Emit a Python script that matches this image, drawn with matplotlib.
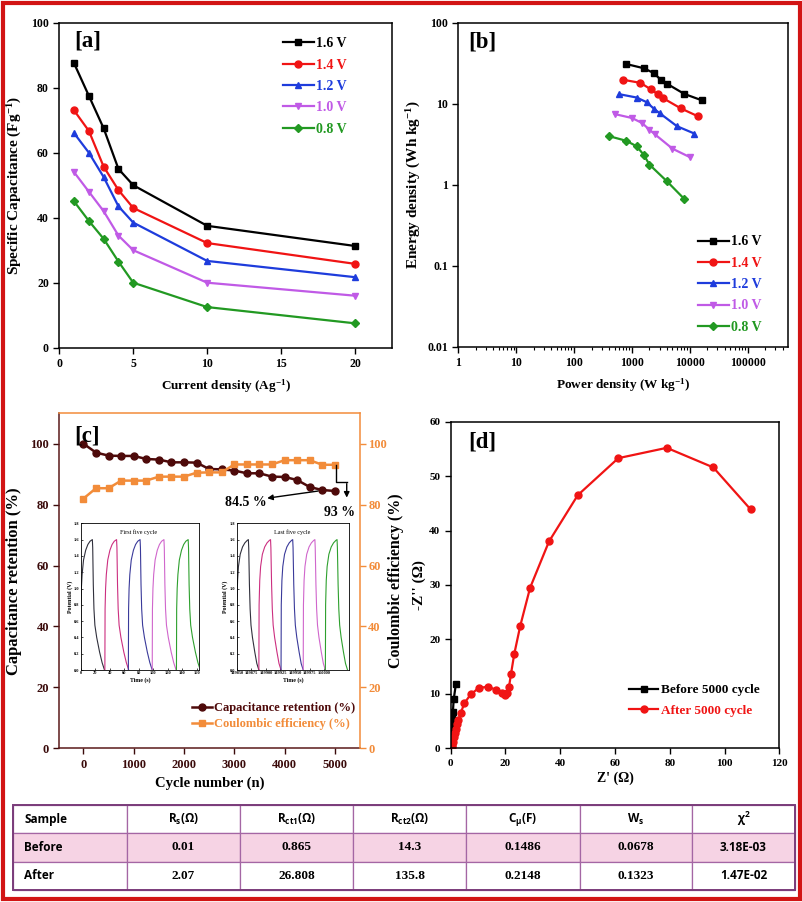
import matplotlib
matplotlib.use('Agg')
import matplotlib.pyplot as plt
from matplotlib.patches import Rectangle
from matplotlib.ticker import LogLocator, NullLocator, NullFormatter, FuncFormatter

plt.rcParams['font.family'] = ['Liberation Serif', 'DejaVu Serif']
plt.rcParams['font.weight'] = 'bold'
plt.rcParams['axes.labelweight'] = 'bold'
plt.rcParams['mathtext.default'] = 'regular'
plt.rcParams['axes.linewidth'] = 1.1

# ---------------- data ----------------
volt_labels = ['1.6 V', '1.4 V', '1.2 V', '1.0 V', '0.8 V']
volt_colors = ['#000000', '#F01414', '#1E3CDC', '#C05AE6', '#229922']
volt_markers = ['s', 'o', '^', 'v', 'D']

# [a] specific capacitance vs current density
current = [1, 2, 3, 4, 5, 10, 20]
cap_16 = [87.5, 77.5, 67.5, 55.0, 50.0, 37.5, 31.3]
cap_14 = [73.0, 66.7, 55.7, 48.5, 43.0, 32.2, 25.8]
cap_12 = [66.0, 60.0, 52.5, 43.5, 38.5, 26.7, 21.7]
cap_10 = [54.0, 48.0, 42.0, 34.5, 30.0, 20.0, 16.0]
cap_08 = [45.0, 39.0, 33.5, 26.5, 20.0, 12.5, 7.5]

# [b] energy density vs power density
pow_16 = [800, 1600, 2400, 3200, 4000, 8000, 16000]
pow_14 = [700, 1400, 2100, 2800, 3500, 7000, 14000]
pow_12 = [600, 1200, 1800, 2400, 3000, 6000, 12000]
pow_10 = [500, 1000, 1500, 2000, 2500, 5000, 10000]
pow_08 = [400, 800, 1200, 1600, 2000, 4000, 8000]
en_16 = [31.1, 27.6, 24.0, 19.6, 17.8, 13.3, 11.1]
en_14 = [19.9, 18.2, 15.2, 13.2, 11.7, 8.8, 7.0]
en_12 = [13.2, 12.0, 10.5, 8.7, 7.7, 5.3, 4.3]
en_10 = [7.5, 6.7, 5.8, 4.8, 4.2, 2.8, 2.2]
en_08 = [4.0, 3.5, 3.0, 2.35, 1.78, 1.11, 0.67]

# [c] cycling stability
cycle_n = [0, 250, 500, 750, 1000, 1250, 1500, 1750, 2000, 2250, 2500,
           2750, 3000, 3250, 3500, 3750, 4000, 4250, 4500, 4750, 5000]
retention = [100.0, 97.1, 96.1, 96.0, 96.0, 95.0, 94.8, 93.9, 93.9, 93.8, 91.7,
             91.6, 91.2, 90.3, 90.3, 89.2, 89.1, 88.1, 85.8, 84.8, 84.5]
coulombic = [82.0, 85.4, 85.4, 87.9, 87.9, 87.9, 89.2, 89.2, 89.2, 90.5, 90.6,
             90.6, 93.2, 93.2, 93.2, 93.2, 94.6, 94.6, 94.6, 93.1, 93.1]

# GCD insets: one charge/discharge profile per inset, repeated at read start times
gcd_dt_first = [0, 0.3, 1, 2, 4, 7, 10, 13, 16.2, 16.7, 17.5, 18.4, 19.7, 22.2, 26.2, 29.7, 33]
gcd_v_first = [0.0, 0.75, 1.0, 1.17, 1.35, 1.47, 1.54, 1.58, 1.60, 1.50, 1.05, 0.75, 0.55,
               0.40, 0.22, 0.09, 0.0]
gcd_start_first = [-0.5, 33.0, 65.5, 98.5, 132.0]
gcd_dt_last = [0, 0.4, 1.5, 3, 6, 10, 14, 18, 20, 20.6, 21.8, 23, 24.5, 27, 31, 34.5, 38]
gcd_v_last = [0.0, 0.8, 1.1, 1.27, 1.42, 1.51, 1.56, 1.59, 1.60, 1.50, 1.05, 0.75, 0.55,
              0.40, 0.22, 0.08, 0.0]
gcd_start_last = [149850, 149888, 149926, 149964, 150002]
gcd_colors = ['#30303C', '#CC2F80', '#3A3A9A', '#D066CC', '#2EA02E']

# [d] Nyquist plot
z_re_before = [0.0, 0.05, 0.1, 0.2, 0.3, 0.45, 0.6, 0.8, 1.1, 1.9]
z_im_before = [0.0, 0.3, 1.0, 2.0, 3.3, 4.5, 5.5, 6.7, 9.0, 11.8]
z_re_after = [0.3, 0.6, 0.9, 1.2, 1.5, 1.8, 2.2, 2.8, 3.6, 5.0, 7.3, 10.3, 13.5, 16.4,
              18.8, 19.8, 20.7, 21.3, 22.0, 23.2, 25.4, 29.0, 35.9, 46.4, 61.2, 78.9,
              95.9, 109.5]
z_im_after = [0.2, 0.6, 1.2, 2.0, 2.8, 3.6, 4.5, 5.2, 6.4, 8.3, 9.9, 11.1, 11.3, 10.8,
              10.1, 9.8, 10.2, 11.3, 13.6, 17.3, 22.5, 29.5, 38.0, 46.5, 53.3, 55.2,
              51.6, 43.9]

# fitted circuit table
table_header = ['Sample', 'R$_s$(Ω)', 'R$_{ct1}$(Ω)', 'R$_{ct2}$(Ω)', 'C$_μ$(F)', 'W$_s$', 'χ$^2$']
row_before = ['Before', '0.01', '0.865', '14.3', '0.1486', '0.0678', '3.18E-03']
row_after = ['After', '2.07', '26.808', '135.8', '0.2148', '0.1323', '1.47E-02']

# ---------------- figure ----------------
W, H = 803, 902
fig = plt.figure(figsize=(W / 100, H / 100), dpi=100)


def px_axes(left, top, right, bottom):
    return fig.add_axes([left / W, 1 - bottom / H, (right - left) / W, (bottom - top) / H])


def style_legend(leg, colors):
    for txt, c in zip(leg.get_texts(), colors):
        txt.set_color(c)


# ---- [a]
ax_a = px_axes(59.3, 22.7, 392, 347.7)
for ys, lab, c, m in zip([cap_16, cap_14, cap_12, cap_10, cap_08], volt_labels,
                         volt_colors, volt_markers):
    ax_a.plot(current, ys, color=c, marker=m, ms=5 if m != 'D' else 4, lw=1.6, label=lab)
ax_a.set_xlim(0, 22.5)
ax_a.set_ylim(0, 100)
ax_a.set_xticks([0, 5, 10, 15, 20])
ax_a.set_yticks(range(0, 101, 20))
ax_a.tick_params(direction='out', length=4, width=1, labelsize=8.5)
ax_a.set_xlabel('Current density (Ag$^{-1}$)', fontsize=9.5, labelpad=5)
ax_a.set_ylabel('Specific Capacitance (Fg$^{-1}$)', fontsize=11, labelpad=5)
ax_a.text(0.044, 0.975, '[a]', transform=ax_a.transAxes, fontsize=16.5, va='top')
leg = ax_a.legend(loc='upper right', bbox_to_anchor=(0.865, 0.955), frameon=False,
                  fontsize=10, handlelength=2.2, handletextpad=0.2, labelspacing=0.6,
                  borderaxespad=0, borderpad=0)
style_legend(leg, volt_colors)

# ---- [b]
ax_b = px_axes(458.3, 23, 787.7, 346.7)
for xs, ys, lab, c, m in zip([pow_16, pow_14, pow_12, pow_10, pow_08],
                             [en_16, en_14, en_12, en_10, en_08], volt_labels,
                             volt_colors, volt_markers):
    ax_b.plot(xs, ys, color=c, marker=m, ms=5 if m != 'D' else 4, lw=1.6, label=lab)
ax_b.set_xscale('log')
ax_b.set_yscale('log')
ax_b.set_xlim(1, 4.9e5)
ax_b.set_ylim(0.01, 100)
ax_b.set_xticks([1, 10, 100, 1000, 10000, 100000])
ax_b.set_yticks([0.01, 0.1, 1, 10, 100])
ax_b.xaxis.set_minor_locator(LogLocator(base=10, subs=range(2, 10), numticks=20))
ax_b.xaxis.set_minor_formatter(NullFormatter())
ax_b.yaxis.set_minor_locator(NullLocator())
ax_b.xaxis.set_major_formatter(FuncFormatter(lambda v, p: '%g' % v))
ax_b.yaxis.set_major_formatter(FuncFormatter(lambda v, p: '%g' % v))
ax_b.tick_params(which='both', direction='out', labelsize=8.5)
ax_b.tick_params(which='major', length=4, width=1)
ax_b.tick_params(which='minor', length=2, width=0.8)
ax_b.set_xlabel('Power density (W kg$^{-1}$)', fontsize=9.5, labelpad=5)
ax_b.set_ylabel('Energy density (Wh kg$^{-1}$)', fontsize=11, labelpad=3)
ax_b.text(0.03, 0.975, '[b]', transform=ax_b.transAxes, fontsize=16.5, va='top')
leg = ax_b.legend(loc='lower right', bbox_to_anchor=(0.922, 0.04), frameon=False,
                  fontsize=10, handlelength=2.2, handletextpad=0.2, labelspacing=0.6,
                  borderaxespad=0, borderpad=0)
style_legend(leg, volt_colors)

# ---- [c]
maroon = '#4E0A0A'
orange = '#F28C3A'
ax_c = px_axes(59.3, 413.3, 360, 748.3)
ax_c2 = ax_c.twinx()
ax_c.plot(cycle_n, retention, color=maroon, marker='o', ms=5, lw=1.8,
          label='Capacitance retention (%)')
ax_c2.plot(cycle_n, coulombic, color=orange, marker='s', ms=4.5, lw=1.8,
           label='Coulombic efficiency (%)')
ax_c.set_xlim(-480, 5500)
ax_c.set_ylim(0, 110)
ax_c2.set_ylim(0, 110)
ax_c.set_xticks(range(0, 5001, 1000))
ax_c.set_yticks(range(0, 101, 20))
ax_c2.set_yticks(range(0, 101, 20))
ax_c.tick_params(direction='out', length=4, width=1, labelsize=9, colors='#3A0A0A')
ax_c2.tick_params(direction='out', length=4, width=1, labelsize=9, colors=orange, pad=2)
for s in ['left', 'bottom']:
    ax_c.spines[s].set_color('#5A1A1A')
ax_c.spines['top'].set_visible(False)
ax_c.spines['right'].set_visible(False)
ax_c2.spines['left'].set_visible(False)
ax_c2.spines['bottom'].set_visible(False)
ax_c2.spines['right'].set_color(orange)
ax_c2.spines['top'].set_color(orange)
ax_c.set_xlabel('Cycle number (n)', fontsize=10.5, labelpad=4)
ax_c.set_ylabel('Capacitance retention (%)', fontsize=12, labelpad=6)
ax_c2.set_ylabel('Coulombic efficiency (%)', fontsize=11.5, labelpad=1)
ax_c.text(0.049, 0.965, '[c]', transform=ax_c.transAxes, fontsize=16.5, va='top')
# annotations
ax_c.annotate('', xy=(3600, 82.0), xytext=(4720, 84.6),
              arrowprops=dict(arrowstyle='-|>', color='black', lw=1.0, mutation_scale=8))
ax_c.text(3230, 80.6, '84.5 %', fontsize=10, ha='center', va='center')
ax_c2.plot([5018, 5018, 5236], [93.0, 87.6, 87.6], color='black', lw=1.0)
ax_c2.annotate('', xy=(5236, 81.4), xytext=(5236, 87.8),
               arrowprops=dict(arrowstyle='-|>', color='black', lw=1.0, mutation_scale=8))
ax_c2.text(5095, 77.3, '93 %', fontsize=10, ha='center', va='center')
h1, l1 = ax_c.get_legend_handles_labels()
h2, l2 = ax_c2.get_legend_handles_labels()
leg = ax_c2.legend(h1 + h2, l1 + l2, loc='lower right', bbox_to_anchor=(0.985, 0.055),
                   frameon=False, fontsize=9, handlelength=1.6, handletextpad=0.2,
                   labelspacing=0.3, borderaxespad=0, borderpad=0)
style_legend(leg, [maroon, orange])

# GCD insets
inset_specs = [
    (px_axes(81, 523.3, 199.3, 670), gcd_dt_first, gcd_v_first, gcd_start_first,
     (0, 163.6), list(range(0, 161, 20)), 'First five cycle'),
    (px_axes(236.7, 523.3, 349.3, 670), gcd_dt_last, gcd_v_last, gcd_start_last,
     (149850, 150043), list(range(149850, 150001, 25)), 'Last five cycle'),
]
for ax_i, dts, vs, starts, xl, xt, title in inset_specs:
    for t0, c in zip(starts, gcd_colors):
        ax_i.plot([t0 + d for d in dts], vs, color=c, lw=0.8)
    ax_i.set_xlim(*xl)
    ax_i.set_ylim(0, 1.8)
    ax_i.set_xticks(xt)
    ax_i.set_yticks([0.2 * k for k in range(10)])
    ax_i.yaxis.set_major_formatter(FuncFormatter(lambda v, p: '%.1f' % v))
    ax_i.tick_params(direction='in', length=1.5, width=0.5, labelsize=3.2, pad=1)
    for s in ax_i.spines.values():
        s.set_linewidth(0.6)
    ax_i.set_xlabel('Time (s)', fontsize=4.2, labelpad=1)
    ax_i.set_ylabel('Potential (V)', fontsize=4.2, labelpad=1)
    ax_i.text(0.49, 0.96, title, transform=ax_i.transAxes, fontsize=4.4,
              fontweight='normal', ha='center', va='top')

# ---- [d]
ax_d = px_axes(450.7, 421.7, 779.3, 748.3)
ax_d.plot(z_re_before, z_im_before, color='black', marker='s', ms=4.5, lw=1.6,
          label='Before 5000 cycle')
ax_d.plot(z_re_after, z_im_after, color='#F01414', marker='o', ms=5, lw=1.6,
          label='After 5000 cycle')
ax_d.set_xlim(0, 120)
ax_d.set_ylim(0, 60)
ax_d.set_xticks(range(0, 121, 20))
ax_d.set_yticks(range(0, 61, 10))
ax_d.tick_params(direction='out', length=4, width=1, labelsize=8)
ax_d.set_xlabel("Z' (Ω)", fontsize=10, labelpad=3)
ax_d.set_ylabel("-Z'' (Ω)", fontsize=11, labelpad=2)
ax_d.text(0.053, 0.969, '[d]', transform=ax_d.transAxes, fontsize=16.5, va='top')
leg = ax_d.legend(loc='lower right', bbox_to_anchor=(0.942, 0.097), frameon=False,
                  fontsize=9.5, handlelength=2.2, handletextpad=0.25, labelspacing=0.6,
                  borderaxespad=0, borderpad=0)
style_legend(leg, ['black', '#F01414'])

# ---- table + outer frame
ax_t = fig.add_axes([0, 0, 1, 1])
ax_t.set_xlim(0, W)
ax_t.set_ylim(H, 0)
ax_t.axis('off')
col_w = [114, 113, 113, 113, 114, 112, 103]
tab = ax_t.table(cellText=[table_header, row_before, row_after],
                 colWidths=[w / sum(col_w) for w in col_w],
                 bbox=[13 / W, 1 - 890 / H, 782 / W, 85 / H], cellLoc='center')
tab.auto_set_font_size(False)
row_fill = ['white', '#F6D3E4', 'white']
for (r, c), cell in tab.get_celld().items():
    cell.set_edgecolor('#A466A4')
    cell.set_linewidth(0.9)
    cell.set_facecolor(row_fill[r])
    sans = (r == 0) or (c == 0) or (c == 6)
    cell.set_text_props(fontfamily=['Open Sans', 'DejaVu Sans'] if sans else
                        ['Liberation Serif', 'DejaVu Serif'],
                        fontsize=8.5 if sans else 9.5, fontweight='bold',
                        ha='left' if c == 0 else 'center')
ax_t.add_patch(Rectangle((13, 805), 782, 85, fill=False, ec='#7A3C7A', lw=1.4))
ax_t.add_patch(Rectangle((3, 3), W - 6, H - 6, fill=False, ec='#D21414', lw=3))

fig.savefig('out.png', dpi=100)
